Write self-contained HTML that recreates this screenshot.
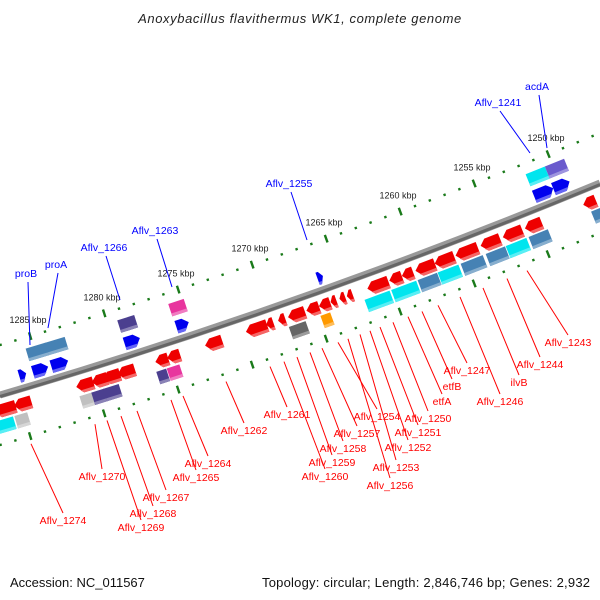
<!DOCTYPE html>
<html><head><meta charset="utf-8"><style>
html,body{margin:0;padding:0;background:#fff}
svg{display:block;font-family:"Liberation Sans","DejaVu Sans",sans-serif}
</style></head><body>
<svg id="chart" width="600" height="600" viewBox="0 0 600 600">
<text x="300" y="23" text-anchor="middle" font-size="13" font-style="italic" fill="#222" letter-spacing="0.6">Anoxybacillus flavithermus WK1, complete genome</text>
<text x="10" y="587" font-size="13" fill="#111">Accession: NC_011567</text>
<text x="590" y="587" text-anchor="end" font-size="13" fill="#111" textLength="328">Topology: circular; Length: 2,846,746 bp; Genes: 2,932</text>
<path d="M0,395 Q300,307 600,183" stroke="#999" stroke-width="7" fill="none"/>
<path d="M0,396.5 Q300,308.5 600,184.5" stroke="#666" stroke-width="3" fill="none"/>
<g id="g"></g>
</svg>
<script>
// ----- data -----
const tickKbp = [1250,1255,1260,1265,1270,1275,1280,1285];
const revArrowCenters = [1286.7,1285.5,1281.3,1280.3,1279.5,1278.5,1276.1,1275.3,1272.6,1269.7,1268.8,1268.0,1267.0,1265.9,1265.1,1264.5,1263.9,1263.4,1261.5,1260.3,1259.5,1258.3,1257.0,1255.5,1253.9,1252.4,1251.0,1247.2];
const revArrowLens = [1.5,1.2,1.2,1.1,1.2,1.2,0.9,0.9,1.2,1.5,0.5,0.5,1.2,0.9,0.8,0.4,0.4,0.4,1.5,0.9,0.8,1.4,1.4,1.6,1.4,1.4,1.2,0.9];
const revBoxCenters = [1286.7,1285.5,1281.1,1280.3,1279.4,1276.0,1275.2,1266.8,1264.9,1261.4,1259.6,1258.0,1256.6,1255.0,1253.4,1252.0,1250.5,1246.6];
const revBoxLens = [1.4,0.9,0.9,0.9,1.1,0.7,0.9,1.2,0.7,1.8,1.8,1.4,1.5,1.6,1.4,1.5,1.4,0.7];
const revBoxColors = ["#00e5ee","#c0c0c0","#c0c0c0","#4b3f8f","#4b3f8f","#4b3f8f","#e8359e","#666666","#ff9900","#00e5ee","#00e5ee","#4682b4","#00e5ee","#4682b4","#4682b4","#00e5ee","#4682b4","#4682b4"];
const fwdBoxCenters = [1284.5,1283.2,1278.4,1275.0,1250.7,1249.4];
const fwdBoxLens = [1.4,1.4,1.2,1.1,1.4,1.4];
const fwdBoxColors = ["#4682b4","#4682b4","#4b3f8f","#e8359e","#00e5ee","#6a5acd"];
const fwdArrowCenters = [1285.5,1284.3,1283.0,1278.1,1274.7,1265.4,1250.3,1249.1];
const fwdArrowLens = [0.5,1.1,1.2,1.1,0.9,0.4,1.4,1.2];
const redLabels = ["Aflv_1274","Aflv_1270","Aflv_1269","Aflv_1268","Aflv_1267","Aflv_1265","Aflv_1264","Aflv_1262","Aflv_1261","Aflv_1260","Aflv_1259","Aflv_1258","Aflv_1257","Aflv_1256","Aflv_1254","Aflv_1253","Aflv_1252","Aflv_1251","Aflv_1250","etfA","etfB","Aflv_1247","Aflv_1246","ilvB","Aflv_1244","Aflv_1243"];
const blueLabels = ["proB","proA","Aflv_1266","Aflv_1263","Aflv_1255","Aflv_1241","acdA"];
// ----- layout (not data) -----
const redLayout = [[31,63,524],[95,102,480],[107,141,531],[121,153,517],[137,166,501],[171,196,481],[183,208,467],[226,244,434],[270,287,418],[284,325,480],[297,332,466],[310,343,452],[322,357,437],[348,390,489],[338,377,420],[360,396,471],[370,408,451],[380,418,436],[393,428,422],[408,442,405],[422,452,390],[438,467,374],[460,500,405],[483,519,386],[507,540,368],[527,568,346]];
const blueLayout = [[26,277,30,345],[56,268,48,328],[104,251,120,300],[155,234,172,287],[289,187,307,240],[498,106,530,153],[537,90,547,148]];

const G = document.getElementById('g');
const NS = 'http://www.w3.org/2000/svg';
function xOf(k){ return 30 + (1285 - k) * 14.8; }
function yOf(x){ const t = x/600; return (1-t)*(1-t)*395 + 2*t*(1-t)*307 + t*t*183; }
function angOf(x){ const t = x/600; const d = (-176*(1-t) - 248*t)/600; return Math.atan(d)*180/Math.PI; }
function mk(tag, attrs){ const e = document.createElementNS(NS, tag); for (const k in attrs) e.setAttribute(k, attrs[k]); G.appendChild(e); return e; }
function shade(c, f){ const n = parseInt(c.slice(1),16); let r=n>>16,g=(n>>8)&255,b=n&255; r=Math.min(255,Math.round(r+(255-r)*f)); g=Math.min(255,Math.round(g+(255-g)*f)); b=Math.min(255,Math.round(b+(255-b)*f)); return 'rgb('+r+','+g+','+b+')'; }

for (let k = 1245; k <= 1287; k++) {
  const x = xOf(k);
  if (x < -5 || x > 605) continue;
  [-50, 50].forEach(off => {
    const y = yOf(x) + off, a = angOf(x);
    const major = k % 5 === 0;
    const el = mk('rect', {x: -1, y: major ? -4 : -1.2, width: 2.4, height: major ? 8 : 2.4, fill: '#1a7a1a', transform: 'translate(' + x + ',' + y + ') rotate(' + a + ')'});
    
    
  });
}
tickKbp.forEach(k => {
  const x = xOf(k);
  const el = mk('text', {x: x - 2, y: yOf(x) - 63, 'text-anchor': 'middle', 'font-size': 9, fill: '#222'});
  el.textContent = k + ' kbp';
  
  
});

function box(k, len, color, off, name){
  const x = xOf(k), w = len*14.8, h = 13, a = angOf(x), y = yOf(x) + off;
  const grp = mk('g', {transform: 'translate(' + x + ',' + y + ') rotate(' + a + ')'});
  
  
  const r1 = document.createElementNS(NS, 'rect');
  r1.setAttribute('x', -w/2); r1.setAttribute('y', -h/2); r1.setAttribute('width', w); r1.setAttribute('height', h); r1.setAttribute('fill', color);
  grp.appendChild(r1);
  const r2 = document.createElementNS(NS, 'rect');
  r2.setAttribute('x', -w/2); r2.setAttribute('y', h/2 - 3); r2.setAttribute('width', w); r2.setAttribute('height', 3); r2.setAttribute('fill', shade(color, 0.35));
  grp.appendChild(r2);
}
function arrow(k, len, color, off, dir, name){
  const x = xOf(k), w = Math.max(len*14.8, 6), h = 15, a = angOf(x), y = yOf(x) + off;
  const tip = Math.min(6, w*0.6);
  const grp = mk('g', {transform: 'translate(' + x + ',' + y + ') rotate(' + a + ') scale(' + dir + ',1)'});
  
  
  const p = document.createElementNS(NS, 'polygon');
  p.setAttribute('points', (-w/2)+','+(-h/2+2)+' '+(w/2-tip)+','+(-h/2+2)+' '+(w/2)+','+(0)+' '+(w/2-tip)+','+(h/2)+' '+(-w/2)+','+(h/2));
  p.setAttribute('fill', color);
  grp.appendChild(p);
  const p2 = document.createElementNS(NS, 'polygon');
  p2.setAttribute('points', (-w/2)+','+(h/2-3)+' '+(w/2-tip*0.5)+','+(h/2-3)+' '+(w/2-tip)+','+(h/2)+' '+(-w/2)+','+(h/2));
  p2.setAttribute('fill', shade(color, 0.4));
  grp.appendChild(p2);
}
revArrowCenters.forEach((k, i) => arrow(k, revArrowLens[i], '#ee0000', 15, -1, 'reverse-gene-arrow'));
revBoxCenters.forEach((k, i) => box(k, revBoxLens[i], revBoxColors[i], 32, 'reverse-gene-cog-box'));
fwdBoxCenters.forEach((k, i) => box(k, fwdBoxLens[i], fwdBoxColors[i], -32, 'forward-gene-cog-box'));
fwdArrowCenters.forEach((k, i) => arrow(k, fwdArrowLens[i], '#0000ee', -14, 1, 'forward-gene-arrow'));

redLabels.forEach((t, i) => {
  const L = redLayout[i];
  const sx = L[0], sy = yOf(sx) + 58;
  const ln = mk('line', {x1: sx, y1: sy, x2: L[1], y2: L[2] - 11, stroke: '#ff0000', 'stroke-width': 1});
  
  
  const tx = mk('text', {x: L[1], y: L[2], 'text-anchor': 'middle', 'font-size': 10.5, fill: '#ff0000'});
  tx.textContent = t;
  
  
});
blueLabels.forEach((t, i) => {
  const L = blueLayout[i];
  const ln = mk('line', {x1: L[0]+2, y1: L[1] + 5, x2: L[2], y2: L[3], stroke: '#0000ff', 'stroke-width': 1});
  
  
  const tx = mk('text', {x: L[0], y: L[1], 'text-anchor': 'middle', 'font-size': 10.5, fill: '#0000ff'});
  tx.textContent = t;
  
  
});
</script>
</body></html>
